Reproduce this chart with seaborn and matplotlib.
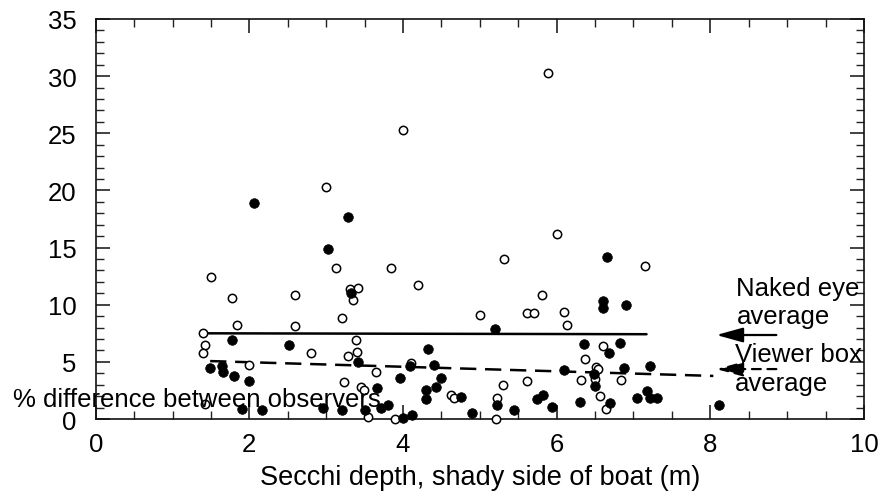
import numpy as np
import pandas as pd
import matplotlib
matplotlib.use('Agg')
import matplotlib.pyplot as plt
import seaborn as sns
from matplotlib.ticker import MultipleLocator

# Naked eye readings (open circles)
naked_x = [4.0, 5.89, 3.0, 6.0, 5.31, 3.13, 1.50, 1.77, 2.6, 3.31, 3.35, 3.41, 3.2, 1.84,
           2.6, 1.40, 1.42, 1.40, 2.80, 3.39, 3.28, 3.40, 2.0, 3.23, 3.45, 3.49, 1.42, 3.85,
           4.19, 5.0, 5.61, 5.70, 5.81, 6.10, 6.14, 3.65, 4.1, 4.63, 4.66, 3.55, 3.9, 5.21,
           5.23, 5.3, 5.62, 6.37, 6.61, 6.51, 6.54, 6.32, 6.5, 6.84, 6.56, 6.64, 7.15]
naked_y = [25.3, 30.3, 20.3, 16.2, 14.0, 13.2, 12.4, 10.6, 10.85, 11.4, 10.4, 11.5, 8.86, 8.2,
           8.1, 7.5, 6.5, 5.8, 5.8, 6.94, 5.5, 5.9, 4.75, 3.27, 2.83, 2.5, 1.35, 13.2,
           11.75, 9.1, 9.27, 9.27, 10.85, 9.33, 8.2, 4.14, 4.9, 2.13, 1.84, 0.15, 0.0, 0.0,
           1.87, 3.0, 3.32, 5.25, 6.36, 4.55, 4.37, 3.4, 3.53, 3.4, 1.98, 0.9, 13.36]

# Viewer box readings (filled circles)
viewer_x = [2.06, 3.28, 3.02, 6.66, 3.32, 1.77, 2.52, 3.41, 1.49, 1.64, 1.66, 1.80, 1.99, 1.90,
            2.16, 2.96, 3.21, 5.20, 6.6, 6.6, 6.9, 3.66, 3.96, 4.09, 4.32, 4.40, 4.5, 4.43,
            4.30, 4.30, 4.76, 3.5, 3.72, 3.8, 4.0, 4.12, 4.9, 5.23, 5.44, 5.74, 5.82, 5.94,
            6.1, 6.36, 6.68, 6.82, 6.49, 6.88, 6.5, 6.3, 6.7, 7.05, 7.22, 7.17, 7.22, 7.31, 8.11]
viewer_y = [18.9, 17.7, 14.9, 14.2, 11.0, 6.9, 6.45, 4.96, 4.46, 4.66, 4.08, 3.8, 3.35, 0.87,
            0.79, 0.93, 0.82, 7.85, 10.35, 9.7, 10.0, 2.7, 3.6, 4.66, 6.15, 4.75, 3.6, 2.77,
            2.5, 1.78, 1.95, 0.76, 0.93, 1.2, 0.1, 0.38, 0.52, 1.2, 0.82, 1.78, 2.13, 1.02,
            4.26, 6.56, 5.8, 6.68, 3.94, 4.43, 2.9, 1.46, 1.37, 1.84, 4.64, 2.45, 1.81, 1.86, 1.25]

# average lines
naked_avg_x = [1.40, 7.17]
naked_avg_y = [7.50, 7.42]
viewer_avg_x = [1.49, 8.04]
viewer_avg_y = [5.07, 3.77]

sns.set_style('ticks')
plt.rcParams['font.family'] = ['Liberation Sans', 'DejaVu Sans']
plt.rcParams['text.color'] = 'black'
plt.rcParams['axes.labelcolor'] = 'black'
plt.rcParams['xtick.color'] = 'black'
plt.rcParams['ytick.color'] = 'black'
FS = 18.5

fig = plt.figure(figsize=(8.82, 5.02), dpi=100)
ax = fig.add_axes([0.1085, 0.1633, 0.871, 0.7969])

naked = pd.DataFrame({'x': naked_x, 'y': naked_y})
viewer = pd.DataFrame({'x': viewer_x, 'y': viewer_y})

sns.scatterplot(data=naked, x='x', y='y', ax=ax, s=36, color='white',
                edgecolor='black', linewidth=1.1, zorder=3, clip_on=False)
sns.scatterplot(data=viewer, x='x', y='y', ax=ax, s=48, color='black',
                edgecolor='black', linewidth=0.5, zorder=4, clip_on=False)

ax.plot(naked_avg_x, naked_avg_y, color='black', lw=1.8, zorder=2)
ax.plot(viewer_avg_x, viewer_avg_y, color='black', lw=1.8, ls=(0, (6.5, 3.5)), zorder=2)

# arrows + labels on the right
head = '-|>,head_length=0.9,head_width=0.25'
ax.annotate('', xy=(8.08, 7.35), xytext=(8.86, 7.35),
            arrowprops=dict(arrowstyle=head, color='black', lw=1.6,
                            mutation_scale=18, shrinkA=0, shrinkB=0))
ax.annotate('', xy=(8.08, 4.37), xytext=(8.86, 4.37),
            arrowprops=dict(arrowstyle=head, color='black', lw=1.6, ls=(0, (4, 3)),
                            mutation_scale=18, shrinkA=0, shrinkB=0))
ax.text(8.34, 12.55, 'Naked eye\naverage', fontsize=FS, va='top', ha='left', linespacing=1.25)
ax.text(8.32, 6.75, 'Viewer box\naverage', fontsize=FS, va='top', ha='left', linespacing=1.25)

ax.text(-1.08, 1.75, '% difference between observers', fontsize=FS, va='center',
        ha='left', clip_on=False)

ax.set_xlim(0, 10)
ax.set_ylim(0, 35)
ax.xaxis.set_major_locator(MultipleLocator(2))
ax.xaxis.set_minor_locator(MultipleLocator(0.5))
ax.yaxis.set_major_locator(MultipleLocator(5))
ax.yaxis.set_minor_locator(MultipleLocator(1))
ax.tick_params(which='both', direction='in', top=True, right=True, labelsize=FS, color='#222222')
ax.tick_params(which='major', length=10, width=1.2)
ax.tick_params(which='minor', length=5.5, width=1.0)
ax.tick_params(axis='x', pad=9)
ax.tick_params(axis='y', pad=14)
for sp in ax.spines.values():
    sp.set_visible(True)
    sp.set_linewidth(1.2)
    sp.set_color('#111111')

ax.set_xlabel('Secchi depth, shady side of boat (m)', fontsize=19.5, labelpad=6)
ax.set_ylabel('')

fig.savefig('out.png', dpi=100)
